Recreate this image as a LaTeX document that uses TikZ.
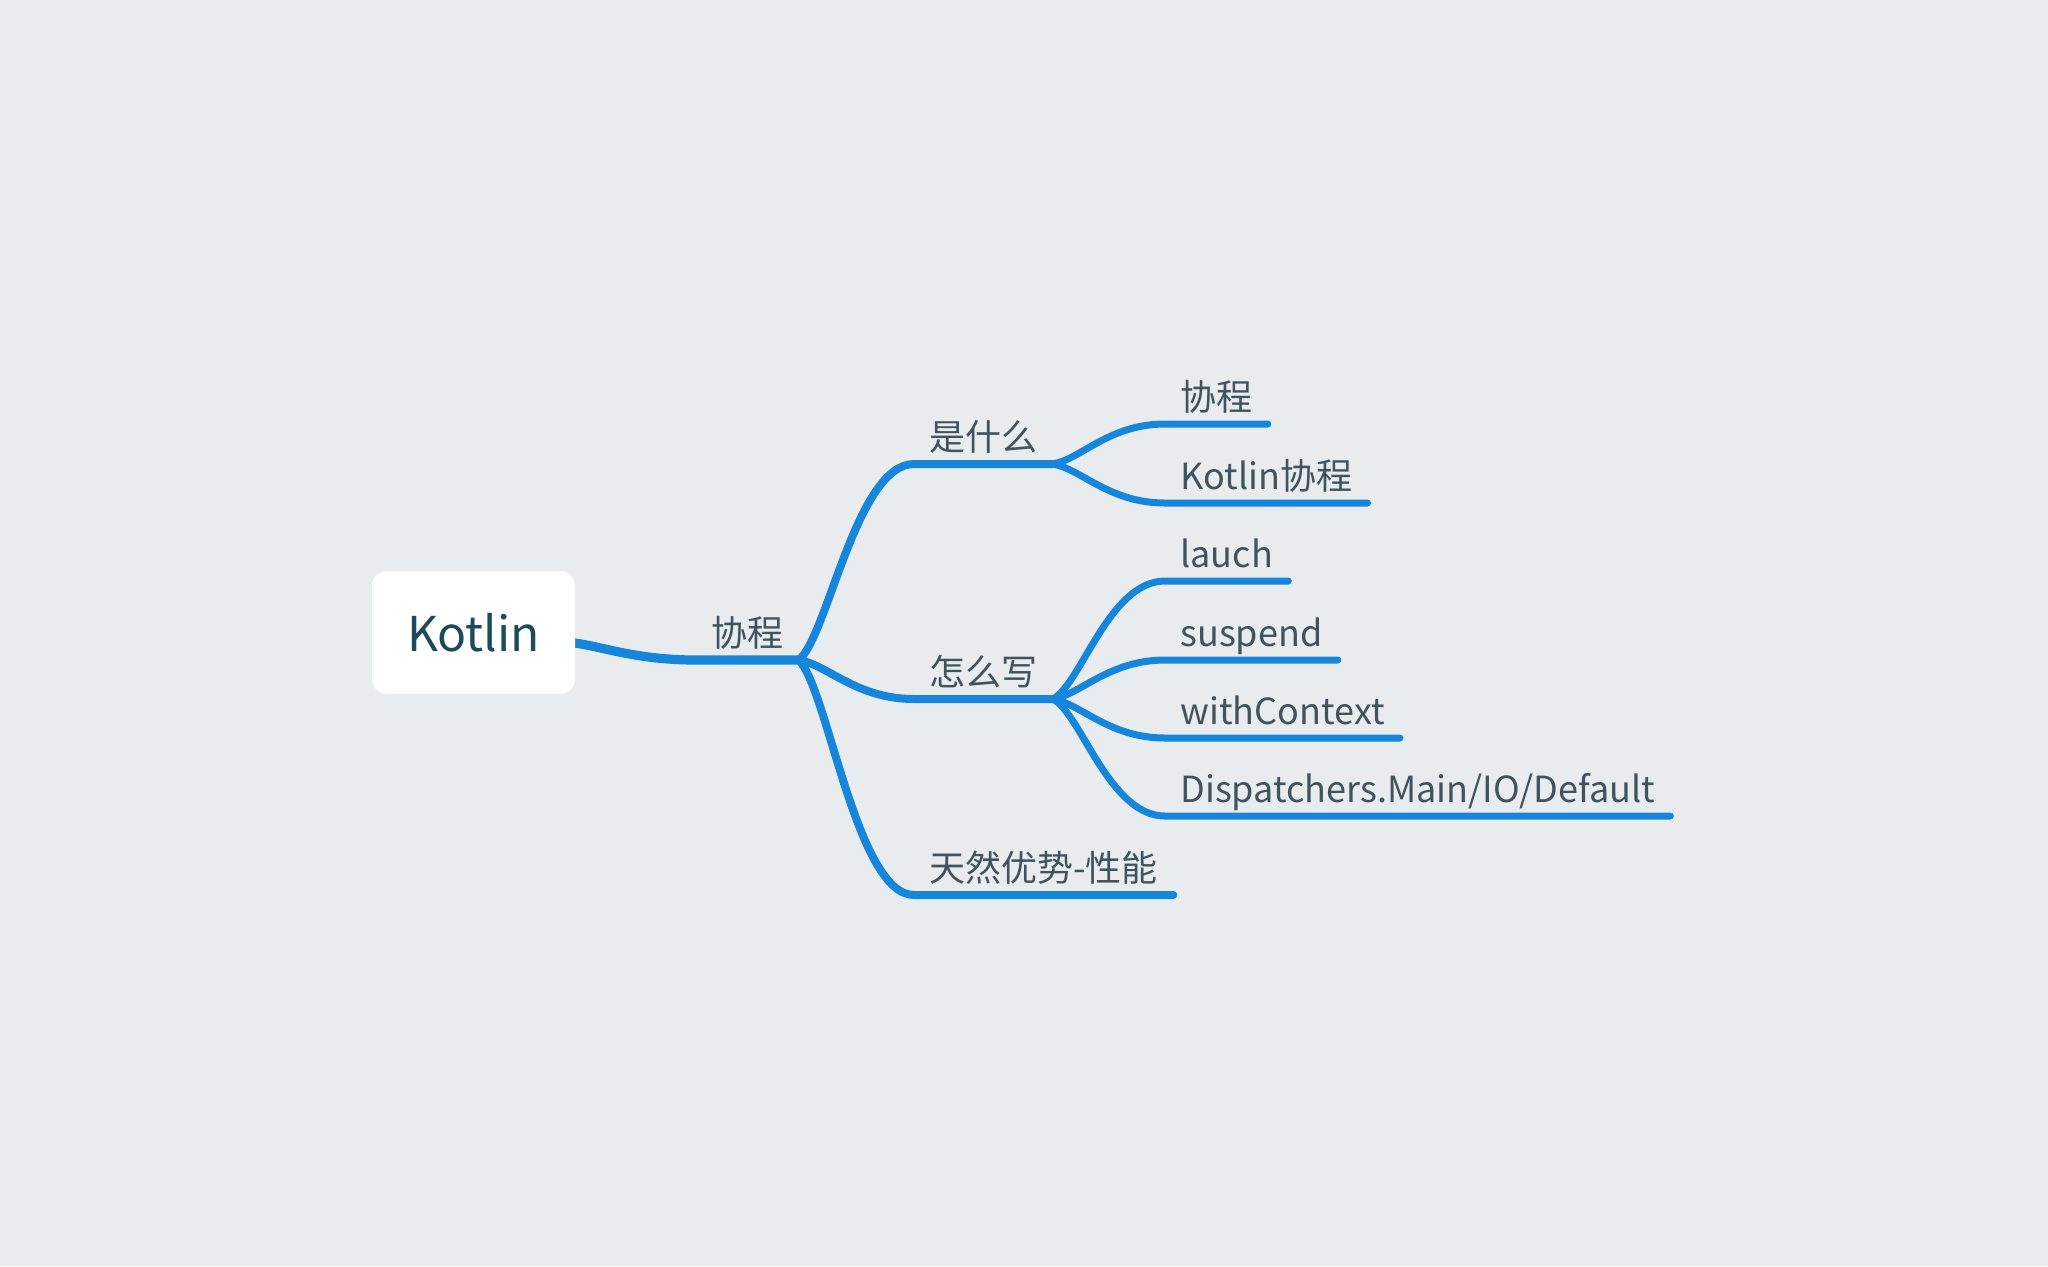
\documentclass[tikz,border=0pt]{standalone}
\usepackage{fontspec}
\setmainfont{Noto Sans CJK SC}
\usetikzlibrary{calc}
\definecolor{bgc}{RGB}{232,236,239}
\definecolor{linec}{RGB}{22,134,220}
\definecolor{txtc}{RGB}{64,83,94}
\definecolor{rootc}{RGB}{30,74,90}
\tikzset{
  topic/.style={anchor=south west, inner xsep=7.5pt, inner ysep=6.5pt, text depth=0pt,
    text=txtc, font=\fontsize{18pt}{22pt}\selectfont},
  rootbox/.style={fill=white, rounded corners=7.5pt, minimum width=101.5pt, minimum height=61.5pt,
    text=rootc, font=\fontsize{24pt}{29pt}\selectfont, inner sep=0pt},
  trunk/.style={draw=linec, line width=4.6pt, line cap=round, line join=round},
  br/.style={draw=linec, line width=4pt, line cap=round, line join=round},
  subbr/.style={draw=linec, line width=3.5pt, line cap=round, line join=round},
  branch/.style={to path={let \p1=(\tikztostart), \p2=(\tikztotarget) in
    .. controls ({\x1+0.25*(\x2-\x1)},{\y1+0.12*(\y2-\y1)}) and ({\x1+0.5*(\x2-\x1)},\y2) .. (\tikztotarget) \tikztonodes}}
}
\begin{document}
\begin{tikzpicture}[x=0.5pt,y=-0.5pt]
\useasboundingbox (0,0) rectangle (2048,1266);
\fill[bgc] (0,0) rectangle (2048,1266);
% topics
\node[topic] (t0) at (696,660) {协程};
\node[topic] (a) at (914,464) {是什么};
\node[topic] (b) at (914,699) {怎么写};
\node[topic] (c) at (914,895) {天然优势-性能};
\node[topic] (a1) at (1165,424) {协程};
\node[topic] (a2) at (1165,503) {Kotlin协程};
\node[topic] (b1) at (1165,581) {lauch};
\node[topic] (b2) at (1165,660) {suspend};
\node[topic] (b3) at (1165,738) {withContext};
\node[topic] (b4) at (1165,816) {Dispatchers.Main/IO/Default};
\coordinate (k0) at (565,642);
% connectors
\draw[trunk] (k0) to[branch] (t0.south west) -- (t0.south east);
\draw[br] (t0.south east) to[branch] (a.south west) -- (a.south east);
\draw[br] (t0.south east) to[branch] (b.south west) -- (b.south east);
\draw[br] (t0.south east) to[branch] (c.south west) -- (c.south east);
\draw[subbr] (a.south east) to[branch] (a1.south west) -- (a1.south east);
\draw[subbr] (a.south east) to[branch] (a2.south west) -- (a2.south east);
\draw[subbr] (b.south east) to[branch] (b1.south west) -- (b1.south east);
\draw[subbr] (b.south east) to[branch] (b2.south west) -- (b2.south east);
\draw[subbr] (b.south east) to[branch] (b3.south west) -- (b3.south east);
\draw[subbr] (b.south east) to[branch] (b4.south west) -- (b4.south east);
% root
\node[rootbox] (kotlin) at (473.5,632.5) {Kotlin};
\end{tikzpicture}
\end{document}
